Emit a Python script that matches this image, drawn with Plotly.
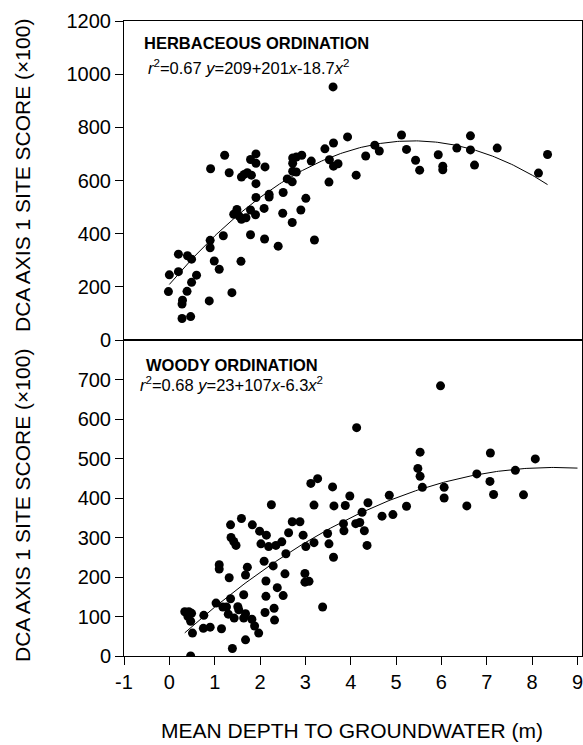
import numpy as np
import plotly.graph_objects as go

# ---------------- data ----------------
herb_x = [-0.02, 0.0, 0.2, 0.2, 0.4, 0.49, 0.6, 0.49, 0.39, 0.29, 0.28, 0.28, 0.47, 0.88, 1.38,
          0.9, 0.9, 0.99, 1.1, 1.19, 1.58, 1.79, 2.1, 2.4, 3.2, 2.71, 2.5, 2.9, 3.01, 2.09,
          1.9, 1.79, 1.69, 1.59, 1.49, 1.42, 1.54, 1.91, 2.2, 2.2, 2.51, 2.6, 2.71, 2.72, 2.8,
          2.72, 2.72, 2.8, 2.92, 3.13, 3.43, 3.62, 3.93, 3.53, 3.62, 3.72, 3.52, 4.12, 4.33,
          0.91, 1.22, 1.32, 1.59, 1.65, 1.72, 1.81, 1.91, 1.79, 1.91, 1.91, 2.11, 3.61,
          4.53, 4.63, 5.12, 5.23, 5.43, 5.52, 5.93, 6.03, 6.03, 6.34, 6.64, 6.64, 6.73,
          7.23, 8.14, 8.34]
herb_y = [182, 245, 257, 323, 317, 304, 244, 217, 183, 150, 135, 81, 88, 147, 178,
          375, 347, 297, 266, 392, 296, 396, 380, 353, 376, 442, 477, 489, 533, 495,
          471, 489, 460, 454, 491, 473, 466, 536, 538, 548, 555, 606, 595, 635, 632,
          665, 685, 688, 695, 673, 719, 741, 764, 678, 654, 663, 594, 620, 692,
          644, 695, 629, 613, 623, 629, 620, 588, 679, 700, 665, 651, 952,
          733, 711, 771, 717, 676, 639, 697, 654, 640, 722, 768, 715, 658,
          722, 628, 698]

woody_x = [4.13, 3.12, 3.27, 3.6, 3.98, 4.38, 2.25, 3.19, 3.63, 3.88, 4.25, 1.59, 1.35, 1.83,
           2.71, 2.88, 3.84, 4.11, 3.85, 4.3, 1.99, 2.14, 2.63, 2.95, 3.49, 1.36, 1.47, 1.42,
           2.02, 2.19, 2.35, 2.48, 3.01, 3.19, 3.52, 4.36, 2.57, 3.62, 2.09, 2.29, 1.1, 1.1,
           1.72, 1.68, 1.32, 2.55, 2.99, 2.99, 3.08, 2.13, 2.38, 2.51, 2.13, 1.64, 1.35, 1.03,
           1.18, 1.26, 1.51, 1.53, 1.3, 1.43, 1.64, 1.68, 1.82, 1.88, 1.97, 2.11, 2.31, 2.32,
           3.38, 0.76, 0.75, 0.9, 1.15, 0.34, 0.43, 0.49, 0.41, 0.47, 0.51, 0.47, 1.39, 1.68,
           5.98, 5.53, 7.08, 8.07, 5.48, 5.53, 6.78, 7.63, 7.07, 5.58, 6.06, 6.06, 7.15, 7.81,
           6.56, 4.85, 5.23, 4.93, 4.69, 4.2]
woody_y = [578, 437, 449, 428, 405, 388, 383, 382, 380, 381, 364, 348, 332, 332,
           340, 340, 335, 335, 317, 317, 316, 306, 312, 306, 310, 300, 280, 290,
           284, 277, 280, 289, 277, 287, 284, 280, 259, 250, 240, 228, 231, 220,
           225, 205, 198, 208, 209, 187, 189, 190, 173, 153, 151, 155, 145, 134,
           124, 124, 125, 117, 106, 96, 96, 107, 93, 76, 58, 110, 121, 91,
           124, 103, 70, 73, 69, 112, 112, 108, 100, 88, 58, 0, 19, 41,
           684, 516, 514, 499, 475, 455, 461, 470, 442, 427, 427, 400, 409, 408,
           380, 407, 379, 358, 354, 338]

# fitted quadratic coefficients printed on the chart (c0, c1, c2)
herb_coef = [209, 201, -18.7]
woody_coef = [23, 107, -6.3]
herb_fit_span = [0.0, 8.34]
woody_fit_span = [0.34, 9.0]

x_ticks = [-1, 0, 1, 2, 3, 4, 5, 6, 7, 8, 9]
herb_ticks = [0, 200, 400, 600, 800, 1000, 1200]
woody_ticks = [0, 100, 200, 300, 400, 500, 600, 700]

# ---------------- figure ----------------
W, H = 583, 745
L, R, T, B = 124, 1, 21, 89
pw, ph = W - L - R, H - T - B
split = 316 / ph

def px(xp):
    return (xp - L) / pw

def py(yp):
    return (H - B - yp) / ph

FONT = "Liberation Sans, Arial, Helvetica, sans-serif"

fig = go.Figure()

mk = dict(color="black", size=9)
fig.add_trace(go.Scatter(x=herb_x, y=herb_y, mode="markers", marker=mk,
                         xaxis="x2", yaxis="y2", showlegend=False))
fig.add_trace(go.Scatter(x=woody_x, y=woody_y, mode="markers", marker=mk,
                         xaxis="x", yaxis="y", showlegend=False))

def curve(coef, span):
    xs = np.linspace(span[0], span[1], 200)
    ys = coef[0] + coef[1] * xs + coef[2] * xs ** 2
    return xs, ys

hx, hy = curve(herb_coef, herb_fit_span)
wx, wy = curve(woody_coef, woody_fit_span)
fig.add_trace(go.Scatter(x=hx, y=hy, mode="lines", line=dict(color="black", width=1),
                         xaxis="x2", yaxis="y2", showlegend=False))
fig.add_trace(go.Scatter(x=wx, y=wy, mode="lines", line=dict(color="black", width=1),
                         xaxis="x", yaxis="y", showlegend=False))

axis_common = dict(showline=True, linecolor="black", linewidth=1, mirror=True,
                   showgrid=False, zeroline=False, ticks="outside", ticklen=8,
                   tickcolor="black", tickwidth=1,
                   tickfont=dict(family=FONT, size=20, color="black"))

fig.update_layout(
    width=W, height=H,
    margin=dict(l=L, r=R, t=T, b=B, pad=0),
    paper_bgcolor="white", plot_bgcolor="white",
    font=dict(family=FONT, color="black"),
    xaxis=dict(**axis_common, range=[-1, 9.1], tickvals=x_ticks,
               ticktext=[str(v) for v in x_ticks], domain=[0, 1], anchor="y",
               ticklabeloverflow="allow"),
    yaxis=dict(**axis_common, range=[0, 800], tickvals=woody_ticks,
               domain=[0, split], anchor="x"),
    xaxis2=dict(showline=True, linecolor="black", linewidth=1, mirror=True,
                showgrid=False, zeroline=False, ticks="", showticklabels=False,
                range=[-1, 9.1], domain=[0, 1], anchor="y2", matches="x"),
    yaxis2=dict(**axis_common, range=[0, 1200], tickvals=herb_ticks,
                domain=[split, 1], anchor="x2"),
)

ann = []
ytitle = "DCA AXIS 1 SITE SCORE (×100)"
ann.append(dict(text=ytitle, x=px(22), y=py(176), xref="paper", yref="paper",
                textangle=-90, showarrow=False, xanchor="center", yanchor="middle",
                font=dict(family=FONT, size=21, color="black")))
ann.append(dict(text=ytitle, x=px(22), y=py(506), xref="paper", yref="paper",
                textangle=-90, showarrow=False, xanchor="center", yanchor="middle",
                font=dict(family=FONT, size=21, color="black")))
ann.append(dict(text="MEAN DEPTH TO GROUNDWATER (m)", x=px(352), y=py(730),
                xref="paper", yref="paper", showarrow=False,
                xanchor="center", yanchor="middle",
                font=dict(family=FONT, size=21, color="black")))

ann.append(dict(text="<b>HERBACEOUS ORDINATION</b>", x=px(142), y=py(43), xref="paper",
                yref="paper", showarrow=False, xanchor="left", yanchor="middle",
                font=dict(family=FONT, size=16.5, color="black")))
ann.append(dict(text="<i>r</i><sup>2</sup>=0.67 <i>y</i>=209+201<i>x</i>-18.7<i>x</i><sup>2</sup>",
                x=px(146), y=py(67), xref="paper", yref="paper", showarrow=False,
                xanchor="left", yanchor="middle",
                font=dict(family=FONT, size=16.5, color="black")))
ann.append(dict(text="<b>WOODY ORDINATION</b>", x=px(144), y=py(365), xref="paper",
                yref="paper", showarrow=False, xanchor="left", yanchor="middle",
                font=dict(family=FONT, size=16.5, color="black")))
ann.append(dict(text="<i>r</i><sup>2</sup>=0.68 <i>y</i>=23+107<i>x</i>-6.3<i>x</i><sup>2</sup>",
                x=px(138), y=py(384), xref="paper", yref="paper", showarrow=False,
                xanchor="left", yanchor="middle",
                font=dict(family=FONT, size=16.5, color="black")))
fig.update_layout(annotations=ann)

fig.write_html("out.html")
